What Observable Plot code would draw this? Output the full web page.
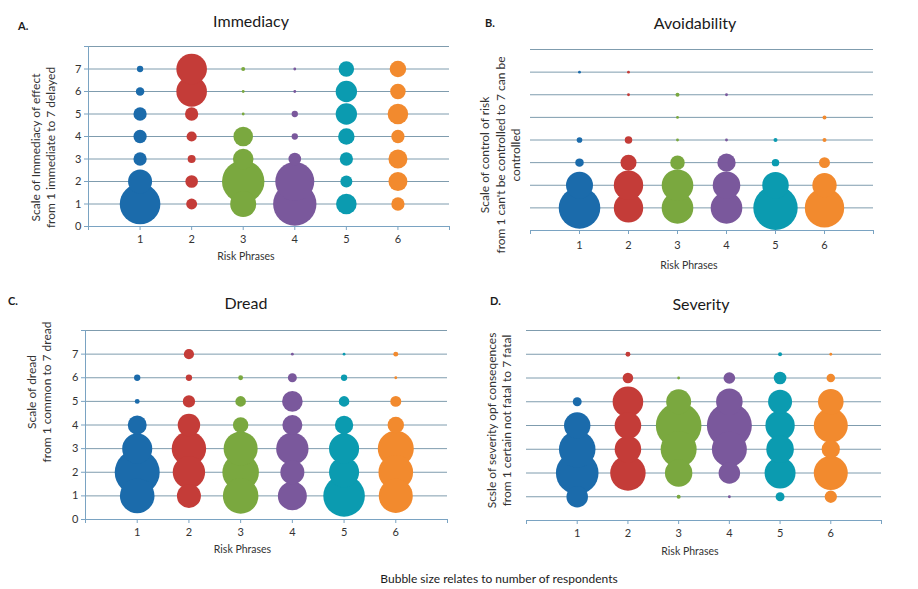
<!DOCTYPE html>
<html>
<head>
<meta charset="utf-8">
<script src="https://cdn.jsdelivr.net/npm/d3@7"></script>
<script src="https://cdn.jsdelivr.net/npm/@observablehq/plot@0.6"></script>
<style>
  html, body { margin: 0; padding: 0; background: #fff; }
  #root { position: relative; width: 918px; height: 589px; font-family: Lato, "Open Sans", sans-serif; color: #262626; overflow: hidden; }
  .panel { position: absolute; }
  .title { position: absolute; font-size: 16px; transform: translate(-50%, -50%); white-space: nowrap; color: #1a1a1a; }
  .letter { position: absolute; font-size: 11px; font-weight: bold; transform: translate(0, -50%); color: #1a1a1a; }
  .caption { position: absolute; font-size: 12px; transform: translate(-50%, -50%); white-space: nowrap; color: #1a1a1a; }
</style>
</head>
<body>
<div id="root"></div>
<script>
// ---- data ----
const phrases = [1, 2, 3, 4, 5, 6];
const scaleLevels = [1, 2, 3, 4, 5, 6, 7];
const gridLevels = [1, 2, 3, 4, 5, 6, 7, 8];
const xTickValues = [0, 1, 2, 3, 4, 5, 6, 7];
const yTickValues = [0, 1, 2, 3, 4, 5, 6, 7, 8];
const seriesColors = ["#1b6bab", "#c43c38", "#7aa83f", "#7a589c", "#0b9bb0", "#f28a2e"];

// respondents per risk phrase (rows) at scale levels 1..7 (columns)
const immediacyCounts = [
  [206, 72, 22, 22, 22, 9, 5],
  [15, 20, 8, 13, 22, 117, 117],
  [85, 225, 53, 48, 1, 1, 2],
  [235, 190, 20, 5, 5, 1, 1],
  [53, 18, 22, 34, 57, 57, 30],
  [22, 45, 45, 22, 53, 30, 34]
];
const avoidabilityCounts = [
  [216, 91, 9, 4, 0, 0, 1],
  [108, 108, 32, 7, 0, 1, 1],
  [125, 125, 26, 1, 1, 2, 0],
  [125, 95, 42, 1, 0, 1, 0],
  [246, 88, 7, 2, 0, 0, 0],
  [194, 74, 15, 2, 2, 0, 0]
];
const dreadCounts = [
  [150, 253, 113, 45, 3, 5, 0],
  [72, 131, 148, 63, 19, 5, 13],
  [158, 167, 145, 30, 14, 3, 0],
  [105, 72, 131, 50, 53, 10, 1],
  [216, 113, 113, 42, 14, 5, 1],
  [145, 150, 162, 34, 15, 1, 3]
];
const severityCounts = [
  [58, 227, 167, 87, 10, 0, 0],
  [0, 157, 88, 88, 117, 14, 3],
  [2, 94, 162, 260, 78, 1, 0],
  [1, 58, 153, 253, 88, 17, 0],
  [10, 120, 95, 108, 72, 20, 2],
  [19, 145, 42, 145, 82, 9, 1]
];

const gridColor = "#7f9cae";
const axisColor = "#7aa3c2";
const textColor = "#333333";

function panel(cfg) {
  const data = [];
  phrases.forEach((p, i) => scaleLevels.forEach((s, j) => data.push({phrase: p, level: s, n: cfg.counts[i][j]})));
  const marks = [
    Plot.gridY(gridLevels, {stroke: gridColor, strokeOpacity: 1, strokeWidth: 1}),
    Plot.ruleY([0], {stroke: axisColor, strokeWidth: 1}),
    Plot.axisX(xTickValues, {tickFormat: d => phrases.includes(d) ? String(d) : "", tickSize: 4, tickPadding: cfg.xPad, stroke: axisColor, fill: textColor, fontSize: 11, label: null})
  ];
  if (cfg.yAxis) {
    marks.push(
      Plot.ruleX([0], {stroke: axisColor, strokeWidth: 1}),
      Plot.axisY(yTickValues, {tickFormat: d => d <= 7 ? String(d) : "", tickSize: 4, tickPadding: 3, stroke: axisColor, fill: textColor, fontSize: 11, label: null})
    );
  }
  marks.push(
    Plot.dot(data, {x: "phrase", y: "level", r: "n", fill: "phrase", stroke: null}),
    Plot.text([cfg.xLabel], {frameAnchor: "bottom", lineAnchor: "middle", dy: cfg.xLabelDy, dx: cfg.xLabelDx, fontSize: 10.5, fill: textColor}),
    Plot.text([cfg.yLabel], {frameAnchor: "left", lineAnchor: "middle", textAnchor: "middle", rotate: -90, dx: cfg.yLabelDx, dy: cfg.yLabelDy, fontSize: 12, fill: textColor, lineHeight: 1.3})
  );
  const chart = Plot.plot({
    width: cfg.width, height: cfg.height,
    marginLeft: cfg.ml, marginRight: cfg.mr, marginTop: cfg.mt, marginBottom: cfg.mb,
    x: {domain: [0, 7], axis: null},
    y: {domain: [0, 8], axis: null},
    r: {domain: [0, 242], range: [0, 22]},
    color: {type: "ordinal", domain: phrases, range: seriesColors},
    style: {fontFamily: "Lato, 'Open Sans', sans-serif", background: "transparent", overflow: "visible"},
    marks
  });
  chart.classList.add("panel");
  chart.style.left = cfg.left + "px";
  chart.style.top = cfg.top + "px";
  return chart;
}

const root = document.getElementById("root");
const panels = [
  {counts: immediacyCounts, left: 0, top: 0, width: 459, height: 280, ml: 88, mr: 10, mt: 46, mb: 54, yAxis: true, xPad: 5,
   xLabel: "Risk Phrases", xLabelDy: 30, xLabelDx: -23,
   yLabel: "Scale of Immediacy of effect\nfrom 1 immediate to 7 delayed", yLabelDx: -46, yLabelDy: 11},
  {counts: avoidabilityCounts, left: 459, top: 0, width: 459, height: 280, ml: 71, mr: 45, mt: 49, mb: 50, yAxis: false, xPad: 7,
   xLabel: "Risk Phrases", xLabelDy: 35, xLabelDx: -13,
   yLabel: "Scale of control of risk\nfrom 1 can't be controlled to 7 can be\ncontrolled", yLabelDx: -31, yLabelDy: 15},
  {counts: dreadCounts, left: 0, top: 285, width: 459, height: 304, ml: 85, mr: 12, mt: 45, mb: 70, yAxis: true, xPad: 5,
   xLabel: "Risk Phrases", xLabelDy: 30, xLabelDx: -24,
   yLabel: "Scale of dread\nfrom 1 common to 7 dread", yLabelDx: -47, yLabelDy: -33},
  {counts: severityCounts, left: 459, top: 285, width: 459, height: 304, ml: 67, mr: 37, mt: 45, mb: 69, yAxis: false, xPad: 5,
   xLabel: "Risk Phrases", xLabelDy: 31, xLabelDx: -14,
   yLabel: "Scsle of severity opf conseqences\nfrom 1 certain not fatal to 7 fatal", yLabelDx: -28, yLabelDy: -5}
];
panels.forEach(cfg => root.appendChild(panel(cfg)));

const titles = [
  {text: "Immediacy", x: 251, y: 20},
  {text: "Avoidability", x: 695, y: 22},
  {text: "Dread", x: 246, y: 302},
  {text: "Severity", x: 701, y: 303}
];
const letters = [
  {text: "A.", x: 18, y: 25},
  {text: "B.", x: 485, y: 22},
  {text: "C.", x: 8, y: 300},
  {text: "D.", x: 490, y: 300}
];
titles.forEach(t => {
  const d = document.createElement("div");
  d.className = "title"; d.textContent = t.text;
  d.style.left = t.x + "px"; d.style.top = t.y + "px";
  root.appendChild(d);
});
letters.forEach(t => {
  const d = document.createElement("div");
  d.className = "letter"; d.textContent = t.text;
  d.style.left = t.x + "px"; d.style.top = t.y + "px";
  root.appendChild(d);
});
const cap = document.createElement("div");
cap.className = "caption";
cap.textContent = "Bubble size relates to number of respondents";
cap.style.left = "499px"; cap.style.top = "578px";
root.appendChild(cap);
</script>
</body>
</html>
